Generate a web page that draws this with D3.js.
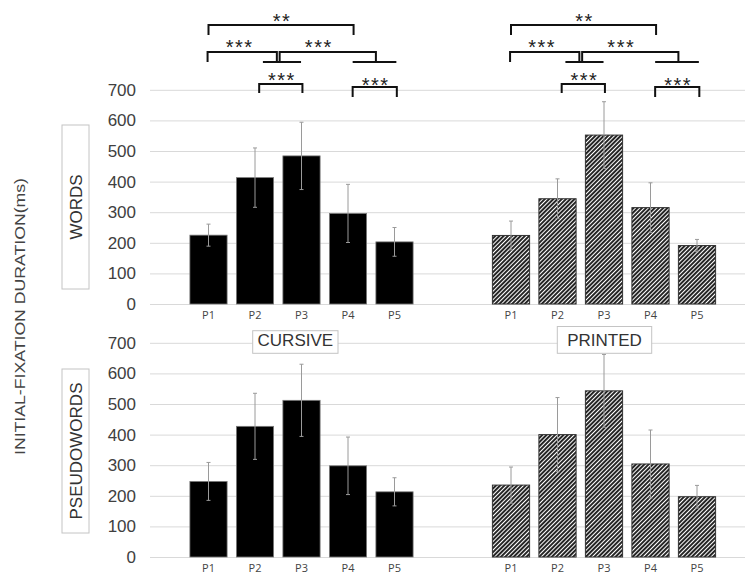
<!DOCTYPE html>
<html>
<head>
<meta charset="utf-8">
<script src="https://cdn.jsdelivr.net/npm/d3@7"></script>
<style>
  html, body { margin: 0; padding: 0; background: #fff; }
  svg { display: block; }
</style>
</head>
<body>
<script>
// ---------- data ----------
const categories = ["P1", "P2", "P3", "P4", "P5"];
const yTicks = [0, 100, 200, 300, 400, 500, 600, 700];

const cursiveWords      = [225, 413, 484, 296, 203];
const cursiveWordsErr   = [36, 97, 110, 95, 47];
const printedWords      = [224, 344, 552, 315, 191];
const printedWordsErr   = [47, 65, 109, 81, 20];

const cursivePseudo     = [247, 427, 512, 298, 213];
const cursivePseudoErr  = [62, 108, 118, 94, 46];
const printedPseudo     = [235, 400, 543, 304, 197];
const printedPseudoErr  = [59, 121, 119, 111, 37];

const scriptLabels = ["CURSIVE", "PRINTED"];
const rowLabels = ["WORDS", "PSEUDOWORDS"];
const yTitle = "INITIAL-FIXATION DURATION(ms)";

// significance brackets (category-index positions), shared by both scripts
const brackets = [
  { from: 0.0,  to: 3.12, label: "**",  row: 0 },
  { from: -0.02, to: 1.47, label: "***", row: 1, group: [1.17, 1.99], labelAt: 0.65 },
  { from: 1.53, to: 3.6,  label: "***", row: 1, group: [3.1, 4.04], labelAt: 2.35 },
  { from: 1.09, to: 2.02, label: "***", row: 2 },
  { from: 3.1,  to: 4.05, label: "***", row: 3 }
];

// ---------- layout ----------
const W = 748, H = 576;
const svg = d3.select("body").append("svg").attr("width", W).attr("height", H);
const FONT = "'Liberation Sans', Arial, sans-serif";

const defs = svg.append("defs");
const pat = defs.append("pattern")
  .attr("id", "hatch").attr("patternUnits", "userSpaceOnUse")
  .attr("width", 3).attr("height", 3)
  .attr("patternTransform", "rotate(45)");
pat.append("rect").attr("width", 3).attr("height", 3).attr("fill", "#fff");
pat.append("line").attr("x1", 1).attr("y1", 0).attr("x2", 1).attr("y2", 3)
  .attr("stroke", "#1a1a1a").attr("stroke-width", 1.9);

const gridX0 = 150, gridX1 = 745;
const panels = [
  { y0: 304, y1: 89.8, sets: [[cursiveWords, cursiveWordsErr], [printedWords, printedWordsErr]] },
  { y0: 557, y1: 342.8, sets: [[cursivePseudo, cursivePseudoErr], [printedPseudo, printedPseudoErr]] }
];
const xRanges = [[185.25, 417.75], [487.75, 720.25]];
const xScales = xRanges.map(r => d3.scaleBand().domain(categories).range(r)
  .paddingInner(0.2).paddingOuter(0.1));

panels.forEach((p, pi) => {
  const y = d3.scaleLinear().domain([0, 700]).range([p.y0, p.y1]);
  // gridlines + tick labels
  const ax = svg.append("g").attr("transform", `translate(${gridX0},0)`)
    .call(d3.axisLeft(y).tickValues(yTicks).tickSize(-(gridX1 - gridX0)).tickPadding(14));
  ax.select(".domain").remove();
  ax.selectAll(".tick line").attr("stroke", "#d9d9d9").attr("stroke-width", 1);
  ax.selectAll(".tick text").attr("font-family", FONT).attr("font-size", 17)
    .attr("fill", "#404040");

  p.sets.forEach(([vals, errs], si) => {
    const x = xScales[si];
    const g = svg.append("g");
    const data = categories.map((c, i) => ({ c, v: vals[i], e: errs[i] }));
    g.selectAll("rect.bar").data(data).join("rect").attr("class", "bar")
      .attr("x", d => x(d.c)).attr("width", x.bandwidth())
      .attr("y", d => y(d.v)).attr("height", d => y(0) - y(d.v))
      .attr("fill", si === 0 ? "#000" : "url(#hatch)")
      .attr("stroke", si === 0 ? "#7a7a7a" : "#333")
      .attr("stroke-width", si === 0 ? 0.8 : 1);
    const cx = d => x(d.c) + x.bandwidth() / 2;
    const eg = g.selectAll("g.err").data(data).join("g").attr("class", "err")
      .attr("stroke", "#9a9a9a").attr("stroke-width", 1);
    eg.append("line").attr("x1", cx).attr("x2", cx)
      .attr("y1", d => y(d.v + d.e)).attr("y2", d => y(d.v - d.e));
    eg.append("line").attr("x1", d => cx(d) - 2).attr("x2", d => cx(d) + 2)
      .attr("y1", d => y(d.v + d.e)).attr("y2", d => y(d.v + d.e));
    eg.append("line").attr("x1", d => cx(d) - 2).attr("x2", d => cx(d) + 2)
      .attr("y1", d => y(d.v - d.e)).attr("y2", d => y(d.v - d.e));

    const xa = svg.append("g").attr("transform", `translate(0,${p.y0})`)
      .call(d3.axisBottom(x).tickSize(0).tickPadding(7));
    xa.select(".domain").remove();
    xa.selectAll("text").attr("font-family", "'Open Sans', 'Liberation Sans', sans-serif")
      .attr("font-size", 11).attr("fill", "#444");
  });
});

// script legend boxes
const legendBoxes = [
  { x: 252.7, y: 330.7, w: 85.3, h: 22.6 },
  { x: 557.3, y: 326.5, w: 94.4, h: 26.8 }
];
scriptLabels.forEach((t, i) => {
  const b = legendBoxes[i];
  svg.append("rect").attr("x", b.x).attr("y", b.y).attr("width", b.w).attr("height", b.h)
    .attr("fill", "#fff").attr("stroke", "#c4c4c4").attr("stroke-width", 1);
  svg.append("text").attr("x", b.x + b.w / 2).attr("y", 340.5)
    .attr("text-anchor", "middle").attr("dominant-baseline", "central")
    .attr("font-family", FONT).attr("font-size", 17).attr("fill", "#333").text(t);
});

// row label boxes
const rowBoxes = [{ y: 125, h: 164 }, { y: 369, h: 164 }];
rowLabels.forEach((t, i) => {
  const b = rowBoxes[i];
  svg.append("rect").attr("x", 62).attr("y", b.y).attr("width", 27).attr("height", b.h)
    .attr("fill", "#fff").attr("stroke", "#c4c4c4").attr("stroke-width", 1);
  const cy = b.y + b.h / 2;
  svg.append("text").attr("transform", `translate(76,${cy}) rotate(-90)`)
    .attr("text-anchor", "middle").attr("dominant-baseline", "central")
    .attr("font-family", FONT).attr("font-size", 17).attr("fill", "#333").text(t);
});

// y title
svg.append("text").attr("transform", "translate(20,316.5) rotate(-90)")
  .attr("text-anchor", "middle").attr("dominant-baseline", "central")
  .attr("font-family", FONT).attr("font-size", 14).attr("fill", "#444")
  .attr("textLength", 277).attr("lengthAdjust", "spacingAndGlyphs").text(yTitle);

// significance brackets
const rowGeom = [
  { y: 25, drop: 10, ty: 16.7 },
  { y: 52, drop: 10, ty: 42.7 },
  { y: 84, drop: 9, ty: 75 },
  { y: 87, drop: 10, ty: 80 }
];
xScales.forEach(x => {
  const step = x.step();
  const c0 = x(categories[0]) + x.bandwidth() / 2;
  const fx = f => c0 + f * step;
  const g = svg.append("g").attr("fill", "none").attr("stroke", "#111").attr("stroke-width", 2);
  brackets.forEach(b => {
    const r = rowGeom[b.row];
    g.append("path").attr("d",
      `M${fx(b.from)},${r.y + r.drop}V${r.y}H${fx(b.to)}V${r.y + r.drop}`);
    if (b.group) {
      g.append("line").attr("x1", fx(b.group[0])).attr("x2", fx(b.group[1]))
        .attr("y1", r.y + r.drop).attr("y2", r.y + r.drop);
    }
    const lx = b.labelAt !== undefined ? fx(b.labelAt) : (fx(b.from) + fx(b.to)) / 2;
    svg.append("text").attr("x", lx + 1).attr("y", r.ty + 11.5)
      .attr("text-anchor", "middle").attr("font-family", FONT)
      .attr("font-size", 20).attr("letter-spacing", 1.5).attr("fill", "#222")
      .text(b.label);
  });
});
</script>
</body>
</html>
